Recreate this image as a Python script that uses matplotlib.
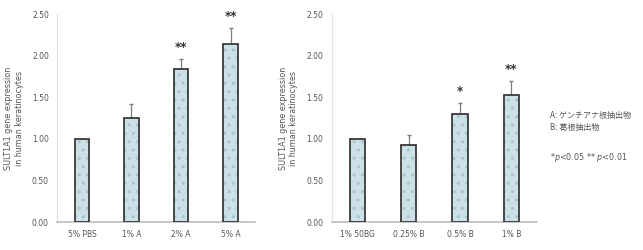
import matplotlib.pyplot as plt
import numpy as np

plt.rcParams['font.family'] = ['DejaVu Sans', 'Noto Sans CJK JP']

# data
cats_a = ['5% PBS', '1% A', '2% A', '5% A']
vals_a = [1.00, 1.25, 1.84, 2.14]
errs_a = [0.0, 0.17, 0.12, 0.19]
stars_a = ['', '', '**', '**']

cats_b = ['1% 50BG', '0.25% B', '0.5% B', '1% B']
vals_b = [1.00, 0.93, 1.30, 1.53]
errs_b = [0.0, 0.12, 0.13, 0.16]
stars_b = ['', '', '*', '**']

yticks = [0.0, 0.5, 1.0, 1.5, 2.0, 2.5]
ylabel = 'SULT1A1 gene expression\nin human keratinocytes'


def draw_panel(ax, cats, vals, errs, stars):
    x = np.arange(len(cats))
    # fill with faint dotted hatch, then dark outline on top
    ax.bar(x, vals, width=0.3, color='#cce0e8', edgecolor='#a9c4cf',
           hatch='..', linewidth=0, zorder=2)
    ax.bar(x, vals, width=0.3, fill=False, edgecolor='#3a3a3a',
           linewidth=1.3, zorder=3)
    ax.errorbar(x, vals, yerr=[np.zeros(len(errs)), errs], fmt='none',
                ecolor='#7f7f7f', elinewidth=0.9, capsize=1.5, zorder=1)
    for xi, v, e, s in zip(x, vals, errs, stars):
        if s:
            ax.text(xi, v + e + 0.06, s, ha='center', va='bottom',
                    fontsize=8.5, fontweight='bold', color='#333333')
    ax.set_xlim(-0.5, 3.5)
    ax.set_ylim(0, 2.5)
    ax.set_xticks(x)
    ax.set_xticklabels(cats, fontsize=5.5, color='#555555')
    ax.set_yticks(yticks)
    ax.set_yticklabels([f'{t:.2f}' for t in yticks], fontsize=5.5, color='#555555')
    ax.tick_params(length=0, pad=6)
    for sp in ['top', 'right']:
        ax.spines[sp].set_visible(False)
    ax.spines['left'].set_color('#e0e0e0')
    ax.spines['bottom'].set_color('#bfbfbf')
    ax.spines['bottom'].set_linewidth(1.2)
    ax.set_ylabel(ylabel, fontsize=5.8, color='#555555', labelpad=6)


fig = plt.figure(figsize=(6.43, 2.5), dpi=100)
ax1 = fig.add_axes([0.089, 0.112, 0.308, 0.832])
ax2 = fig.add_axes([0.516, 0.112, 0.319, 0.832])

draw_panel(ax1, cats_a, vals_a, errs_a, stars_a)
draw_panel(ax2, cats_b, vals_b, errs_b, stars_b)

fig.text(0.855, 0.53, 'A: ゲンチアナ根抽出物', fontsize=5.8, color='#555555',
         family=['Noto Sans CJK JP'])
fig.text(0.855, 0.48, 'B: 葛根抽出物', fontsize=5.8, color='#555555',
         family=['Noto Sans CJK JP'])
fig.text(0.855, 0.36, r'*$\it{p}$<$\it{0.05}$ ** $\it{p}$<$\it{0.01}$',
         fontsize=5.8, color='#555555')

fig.savefig('out.png', dpi=100, facecolor='white')
